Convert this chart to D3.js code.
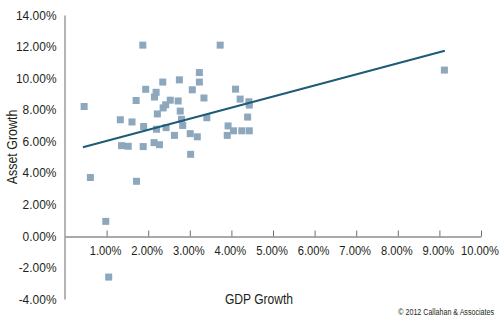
<!DOCTYPE html>
<html>
<head>
<meta charset="utf-8">
<script src="https://cdn.jsdelivr.net/npm/d3@7"></script>
<style>
  body { margin: 0; background: #fff; }
  svg { display: block; }
  text { font-family: "Liberation Sans", Arial, sans-serif; fill: #231f20; }
</style>
</head>
<body>
<div class="scatter"></div>
<script>
// DATA ------------------------------
// GDP growth (%) per point
const gdp = [1.87, 3.73, 3.23, 2.35, 2.75, 3.23, 1.94, 2.19, 3.06, 4.10,
             2.15, 1.71, 3.34, 0.46, 2.53, 2.72, 2.42, 2.36, 4.21, 4.42,
             4.43, 2.77, 2.22, 2.80, 3.41, 4.39, 1.33, 1.61, 1.89, 2.83,
             2.20, 2.43, 3.92, 3.90, 2.63, 3.01, 3.18, 4.05, 4.25, 4.43,
             1.36, 1.52, 1.88, 2.14, 2.27, 3.02, 0.61, 1.72, 0.98, 1.05,
             9.12];
// asset growth (%) per point
const assets = [12.09, 12.09, 10.35, 9.75, 9.89, 9.75, 9.29, 9.10, 9.26, 9.30,
                8.80, 8.58, 8.74, 8.20, 8.60, 8.55, 8.31, 8.11, 8.67, 8.50,
                8.29, 7.91, 7.73, 7.39, 7.49, 7.53, 7.36, 7.22, 6.93, 7.00,
                6.76, 6.86, 6.97, 6.37, 6.37, 6.48, 6.28, 6.66, 6.66, 6.66,
                5.72, 5.68, 5.66, 5.91, 5.78, 5.17, 3.70, 3.46, 0.92, -2.61,
                10.51];
// linear trend line end points
const trendX = [0.43, 9.13];
const trendY = [5.62, 11.73];

const xTicks = [1, 2, 3, 4, 5, 6, 7, 8, 9, 10];
const yTicks = [-4, -2, 0, 2, 4, 6, 8, 10, 12, 14];

// CHART INIT ------------------------------
const width = 500, height = 322;
const margin = ({top: 15, right: 19, bottom: 23, left: 65});

const svg = d3.select(".scatter")
    .append("svg")
    .attr("width", width)
    .attr("height", height);

const xScale = d3.scaleLinear()
    .domain([0, 10])
    .range([margin.left, width - margin.right]);

const yScale = d3.scaleLinear()
    .domain([-4, 14])
    .range([height - margin.bottom, margin.top]);

const fmt = d => d.toFixed(2) + "%";

// squeeze axis labels horizontally (the original uses a condensed face)
function condense(sel, k) {
    sel.each(function() {
        const t = d3.select(this);
        const x = +t.attr("x") || 0;
        t.attr("x", x / k).attr("transform", `scale(${k},1)`);
    });
}

// y axis: line + labels, no ticks
const yAxis = d3.axisLeft(yScale)
    .tickValues(yTicks)
    .tickFormat(fmt)
    .tickSize(0)
    .tickPadding(8);

svg.append("g")
    .attr("class", "axis y-axis")
    .attr("transform", `translate(${margin.left - 0.5},0)`)
    .call(yAxis)
    .call(g => g.select(".domain").attr("stroke", "#8c8c8c").attr("stroke-width", 1.3))
    .call(g => g.selectAll("text")
        .attr("font-family", null)
        .style("font-size", "13px")
        .attr("fill", "#231f20")
        .call(condense, 0.92));

// x axis sits at 0%, ticks point up
const xAxis = d3.axisBottom(xScale)
    .tickValues(xTicks)
    .tickFormat(fmt)
    .tickSizeInner(-6)
    .tickSizeOuter(0)
    .tickPadding(9);

svg.append("g")
    .attr("class", "axis x-axis")
    .attr("transform", `translate(0,${Math.round(yScale(0)) + 0.5})`)
    .call(xAxis)
    .call(g => g.select(".domain").attr("stroke", "#8c8c8c").attr("stroke-width", 1.3))
    .call(g => g.selectAll(".tick line").attr("stroke", "#6e6e6e"))
    .call(g => g.selectAll("text")
        .attr("font-family", null)
        .attr("x", -1.5)
        .style("font-size", "13px")
        .attr("fill", "#231f20")
        .call(condense, 0.86));

// points
const pts = gdp.map((g, i) => ({x: g, y: assets[i]}));
const s = 7;

svg.append("g")
    .selectAll("rect")
    .data(pts)
    .enter()
    .append("rect")
    .attr("x", d => xScale(d.x) - s / 2)
    .attr("y", d => yScale(d.y) - s / 2)
    .attr("width", s)
    .attr("height", s)
    .attr("fill", "#8da7bc");

// trend line
svg.append("line")
    .attr("x1", xScale(trendX[0]))
    .attr("y1", yScale(trendY[0]))
    .attr("x2", xScale(trendX[1]))
    .attr("y2", yScale(trendY[1]))
    .attr("stroke", "#1d5b77")
    .attr("stroke-width", 2);

// axis titles
svg.append("text")
    .attr("transform", "translate(17,147) rotate(-90) scale(0.83,1)")
    .attr("text-anchor", "middle")
    .style("font-size", "15px")
    .text("Asset Growth");

svg.append("text")
    .attr("transform", "translate(259,304) scale(0.78,1)")
    .attr("text-anchor", "middle")
    .style("font-size", "15.5px")
    .text("GDP Growth");

svg.append("text")
    .attr("transform", "translate(494,315) scale(0.75,1)")
    .attr("text-anchor", "end")
    .style("font-size", "9.5px")
    .text("© 2012 Callahan & Associates");
</script>
</body>
</html>
